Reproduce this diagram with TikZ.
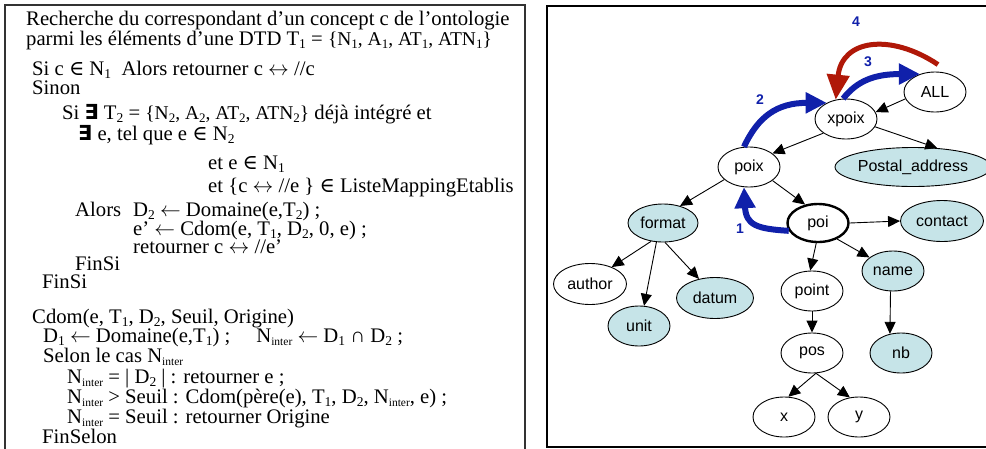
\documentclass[tikz,border=0pt]{standalone}
\usepackage{fontspec}
\setmainfont{Liberation Serif}
\setsansfont{Liberation Sans}
\newfontfamily\symserif{DejaVu Serif}
\newfontfamily\symsans{DejaVu Sans}
\usepackage{xcolor}
\usepackage{tikz}
\usetikzlibrary{arrows.meta}
\usetikzlibrary{shapes, shapes.geometric}
\usetikzlibrary{calc}

\definecolor{leafblue}{RGB}{198,228,232}
\definecolor{pathblue}{RGB}{16,32,170}
\definecolor{pathred}{RGB}{176,24,8}

\newcommand{\low}[1]{\raisebox{-3.5pt}{\fontsize{13.5}{13.5}\selectfont #1}}
\newcommand{\lowin}[1]{\raisebox{-3.5pt}{\fontsize{11.5}{11.5}\selectfont #1}}
\newcommand{\lowsm}[1]{\raisebox{-3pt}{\fontsize{13}{13}\selectfont #1}}
\newcommand{\setsm}[1]{{\fontsize{19.5}{19.5}\selectfont #1}}
\newcommand{\elt}{{\symserif ∈}}
\newcommand{\exst}{{\symsans\bfseries ∃}}
\newcommand{\larr}{$\leftarrow$}
\newcommand{\lrarr}{$\leftrightarrow$}

\tikzset{
  algo/.style={anchor=base west, inner sep=0pt, font=\fontsize{20.7}{22}\selectfont},
  elem/.style={ellipse, draw, line width=0.9pt, minimum width=62pt, minimum height=40pt,
    inner sep=0pt, font=\sffamily\fontsize{16}{16}\selectfont},
  leaf/.style={elem, fill=leafblue},
  link/.style={line width=0.9pt, -{Triangle[length=12pt,width=11pt]}},
  climb/.style={line width=6pt, pathblue, -{Triangle[length=21pt,width=20pt]}},
  retour/.style={line width=5pt, pathred, -{Triangle[length=25pt,width=22pt]}},
  steplabel/.style={text=pathblue, inner sep=0pt, font=\sffamily\bfseries\fontsize{14}{14}\selectfont}
}

\begin{document}
\begin{tikzpicture}[x=1pt,y=1pt,yscale=-1,xscale=1]
\useasboundingbox (0,0) rectangle (986,448);

%Frames
\draw [line width=1.3pt, black!80] (5,452) -- (5,5) -- (525,5) -- (525,452);
\draw [line width=1.8pt] (990,6) -- (547,6) -- (547,447) -- (990,447);

% Text Node
\node [algo] (l1) at (26,25) {Recherche du correspondant d’un concept c de l’ontologie};
\node [algo] (l2) at (26,45) {parmi les éléments d’une DTD T\low{1} = \setsm{\{N\lowsm{1}, A\lowsm{1}, AT\lowsm{1}, ATN\lowsm{1}\}}};
\node [algo] (l3) at (32,75) {Si c \elt{} N\low{1}\ \ Alors retourner c \lrarr{} //c};
\node [algo] (l4) at (32,94) {Sinon};
\node [algo] (l5) at (62,119) {Si \exst{} T\low{2} = \setsm{\{N\lowsm{2}, A\lowsm{2}, AT\lowsm{2}, ATN\lowsm{2}\}} déjà intégré et};
\node [algo] (l6) at (78,140) {\exst{} e, tel que e \elt{} N\low{2}};
\node [algo] (l7) at (208,169) {et e \elt{} N\low{1}};
\node [algo] (l8) at (208,192) {et \{c \lrarr{} //e \} \elt{} ListeMappingEtablis};
\node [algo] (l9) at (75,216) {\makebox[58pt][l]{Alors}D\low{2} \larr{} Domaine(e,T\low{2}) ;};
\node [algo] (l10) at (133,235) {e’ \larr{} Cdom(e, T\low{1}, D\low{2}, 0, e) ;};
\node [algo] (l11) at (133,253) {retourner c \lrarr{} //e’};
\node [algo] (l12) at (75,270) {FinSi};
\node [algo] (l13) at (42,288) {FinSi};
\node [algo] (l14) at (32,323) {Cdom(e, T\low{1}, D\low{2}, Seuil, Origine)};
\node [algo] (l15) at (43,342) {D\low{1} \larr{} Domaine(e,T\low{1}) ;\hspace{26pt}N\lowin{inter} \larr{} D\low{1} ∩ D\low{2} ;};
\node [algo] (l16) at (43,362) {Selon le cas N\lowin{inter}};
\node [algo] (l17) at (67,383) {N\lowin{inter} = | D\low{2} | : retourner e ;};
\node [algo] (l18) at (67,403) {N\lowin{inter} > Seuil : Cdom(père(e), T\low{1}, D\low{2}, N\lowin{inter}, e) ;};
\node [algo] (l19) at (67,423) {N\lowin{inter} = Seuil : retourner Origine};
\node [algo] (l20) at (42,443) {FinSelon};

%Shape: Ellipse
\node [elem] (ALL) at (935,92) {ALL};
\node [elem] (xpoix) at (846,119) {xpoix};
\node [elem] (poix) at (749,167) {poix};
\node [leaf, minimum width=141pt, minimum height=39pt] (postal) at (913,167) {Postal\_address};
\node [leaf, minimum width=70pt, minimum height=38pt] (format) at (663,223) {format};
\node [elem, line width=2.4pt, minimum width=61pt, minimum height=38pt] (poi) at (818,223) {poi};
\node [leaf, minimum width=83pt, minimum height=41pt] (contact) at (942,221) {contact};
\node [elem, minimum width=73pt, minimum height=41pt] (author) at (590,284) {author};
\node [leaf] (unit) at (639,326) {unit};
\node [leaf, minimum width=77pt, minimum height=41pt] (datum) at (715,298) {datum};
\node [elem] (point) at (812,291) {point};
\node [leaf] (name) at (893,271) {name};
\node [elem] (pos) at (812,353) {pos};
\node [leaf] (nb) at (901,353) {nb};
\node [elem] (leafx) at (784,417) {x};
\node [elem] (leafy) at (859,417) {y};

%Straight Lines
\draw [link] (ALL.193) -- (xpoix.13);
\draw [link] (xpoix.212) -- (poix.30);
\draw [link] (xpoix.345) -- (postal.38);
\draw [link] (poix.207) -- (format.45);
\draw [link] (poix.-30) -- (poi.125);
\draw [link] (poi.east) -- (contact.west);
\draw [link] (poi.-95) -- (point.95);
\draw [link] (poi.-40) -- (name.150);
\draw [link] (format.237) -- (author.38);
\draw [link] (format.251) -- (unit.76);
\draw [link] (format.276) -- (datum.130);
\draw [link] (point.south) -- (pos.north);
\draw [link] (name.-97) -- (nb.120);
\draw [link] (pos.-79) -- (leafx.78);
\draw [link] (pos.-79) -- (leafy.115);

%Curve Lines
\draw [climb] (poi.195) .. controls +(-32,-2) and +(2,38) .. (poix.-104);
\draw [climb] (poix.104) .. controls +(14,-30) and +(-50,0) .. (xpoix.140);
\draw [climb] (xpoix.98) .. controls +(14,-18) and +(-45,0) .. (ALL.130);
\draw [retour] ($(ALL.north)+(3,-7)$) .. controls +(-48,-32) and +(6,-60) .. (xpoix.118);

% Text Node
\node [steplabel] (n1) at (740,229) {1};
\node [steplabel] (n2) at (760,100) {2};
\node [steplabel] (n3) at (868,62) {3};
\node [steplabel] (n4) at (856,22) {4};

\end{tikzpicture}
\end{document}
